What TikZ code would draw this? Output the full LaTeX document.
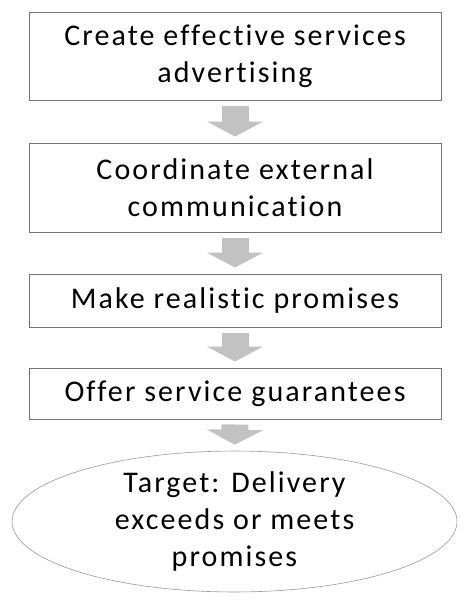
\documentclass[tikz,border=0pt]{standalone}
\usepackage{fontspec}
\setmainfont{Carlito}[Ligatures=NoCommon, LetterSpace=7]
\usepackage{tikz}
\usetikzlibrary{shapes.geometric,arrows.meta}
\definecolor{boxline}{gray}{0.45}
\definecolor{arrowgray}{gray}{0.76}
\definecolor{ellline}{gray}{0.6}
\def\stepfont{\fontsize{30}{37}\selectfont}

\begin{document}
\begin{tikzpicture}[x=1pt,y=-1pt,
  stepbox/.style={draw=boxline, line width=1pt, rectangle, minimum width=412pt, inner sep=0pt, align=center, font=\stepfont},
  goal/.style={draw=ellline, line width=0.6pt, ellipse, minimum width=445pt, minimum height=121pt, inner sep=0pt, align=center, font=\stepfont},
  fatarrow/.style={draw=arrowgray, line width=27pt, -{Triangle[length=15pt,width=56pt]}, shorten <=5pt, shorten >=6pt}]
\useasboundingbox (0,0) rectangle (471,611);
\node (advert) at (235,56) [stepbox, minimum height=88pt] {Create effective services\\advertising};
\node (coord) at (235,187.5) [stepbox, minimum height=89pt] {Coordinate external\\communication};
\node (promise) at (235,300.5) [stepbox, minimum height=53pt] {Make realistic promises};
\node (guarantee) at (235,393.5) [stepbox, minimum height=51pt] {Offer service guarantees};
\node (target) at (234.5,521.5) [goal] {Target: Delivery\\exceeds or meets\\promises};
\draw[fatarrow] (advert.south) -- (coord.north);
\draw[fatarrow] (coord.south) -- (promise.north);
\draw[fatarrow] (promise.south) -- (guarantee.north);
\draw[fatarrow] (guarantee.south) -- (target.north);
\end{tikzpicture}
\end{document}
